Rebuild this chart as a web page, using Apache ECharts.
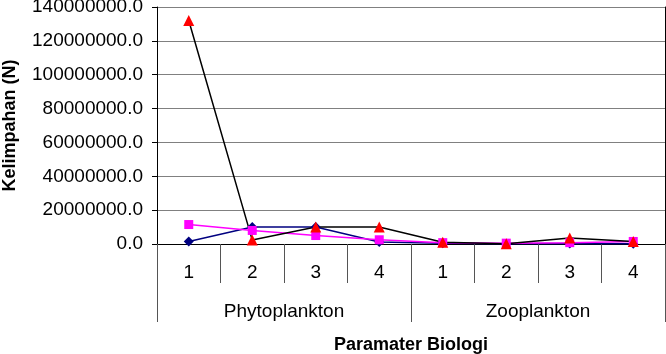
<!DOCTYPE html>
<html>
<head>
<meta charset="utf-8">
<script src="https://cdn.jsdelivr.net/npm/echarts@6/dist/echarts.min.js"></script>
<style>
  html, body { margin: 0; padding: 0; background: #fff; }
  #chart { width: 666px; height: 354px; }
</style>
</head>
<body>
<div id="chart"></div>
<script>
// kategori sumbu x
const stations = ['1', '2', '3', '4', '1', '2', '3', '4'];
const groups = ['Phytoplankton', 'Zooplankton'];

// nilai kelimpahan tiap seri
const seriesBlue = [1500000, 10000000, 10000000, 1200000, 500000, 200000, 300000, 100000];
const seriesPink = [11500000, 8000000, 5000000, 2500000, 800000, 500000, 800000, 1500000];
const seriesRed = [132000000, 2300000, 10000000, 10000000, 1000000, 100000, 3500000, 1500000];

const yTicks = { min: 0, max: 140000000, interval: 20000000 };

const font = 'Liberation Sans, Arial, sans-serif';

const option = {
    animation: false,
    backgroundColor: '#fff',
    grid: { left: 157, right: 1, top: 7, bottom: 110, containLabel: false, outerBoundsMode: 'none' },
    xAxis: [
        {
            type: 'category',
            data: stations,
            boundaryGap: true,
            axisLine: { show: true, lineStyle: { color: '#000', width: 1 } },
            axisTick: { show: true, interval: 0, length: 39, lineStyle: { color: '#555' } },
            axisLabel: { color: '#000', fontSize: 19, fontFamily: font, margin: 19, interval: 0 }
        },
        {
            type: 'category',
            data: groups,
            position: 'bottom',
            boundaryGap: true,
            axisLine: { show: false },
            axisTick: { show: true, interval: 0, length: 78, lineStyle: { color: '#555' } },
            axisLabel: { color: '#000', fontSize: 19, fontFamily: font, margin: 58, interval: 0 },
            name: 'Paramater Biologi',
            nameLocation: 'middle',
            nameGap: 92,
            nameTextStyle: { color: '#000', fontSize: 18, fontWeight: 'bold', fontFamily: font }
        }
    ],
    yAxis: [
        {
            type: 'value',
            min: yTicks.min,
            max: yTicks.max,
            interval: yTicks.interval,
            name: 'Kelimpahan (N)',
            nameLocation: 'middle',
            nameGap: 138,
            nameTextStyle: { color: '#000', fontSize: 18, fontWeight: 'bold', fontFamily: font },
            axisLine: { show: true, lineStyle: { color: '#000' } },
            axisTick: { show: true, inside: false, length: 5, lineStyle: { color: '#000' } },
            axisLabel: {
                color: '#000', fontSize: 19, fontFamily: font, margin: 14,
                formatter: function (v) { return v.toFixed(1); }
            },
            splitLine: { lineStyle: { color: '#808080', width: 1 } }
        },
        {
            type: 'value',
            position: 'right',
            min: yTicks.min,
            max: yTicks.max,
            interval: yTicks.interval,
            axisLine: { show: true, lineStyle: { color: '#000' } },
            axisTick: { show: false },
            axisLabel: { show: false },
            splitLine: { show: false }
        }
    ],
    series: [
        {
            type: 'line',
            data: seriesBlue,
            symbol: 'diamond',
            symbolSize: 10,
            itemStyle: { color: '#000080' },
            lineStyle: { color: '#000080', width: 1.5 }
        },
        {
            type: 'line',
            data: seriesPink,
            symbol: 'rect',
            symbolSize: 9,
            itemStyle: { color: '#ff00ff' },
            lineStyle: { color: '#ff00ff', width: 1.5 }
        },
        {
            type: 'line',
            data: seriesRed,
            symbol: 'triangle',
            symbolSize: 11,
            itemStyle: { color: '#ff0000' },
            lineStyle: { color: '#000', width: 1.5 }
        }
    ]
};

const myChart = echarts.init(document.getElementById('chart'));
myChart.setOption(option);
</script>
</body>
</html>
